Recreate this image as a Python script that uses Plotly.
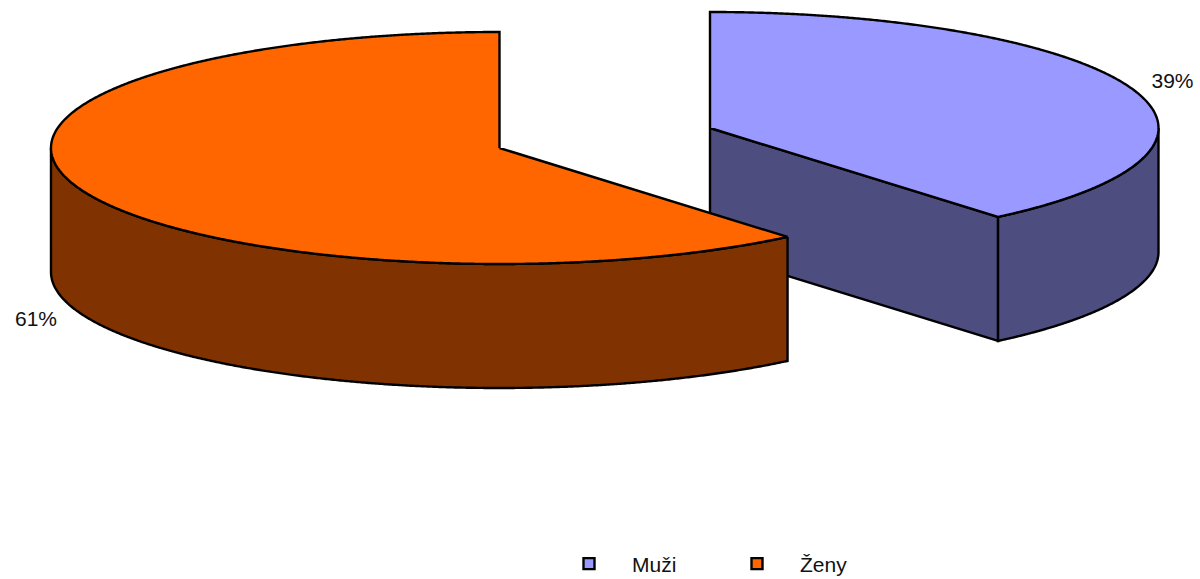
import numpy as np
import plotly.graph_objects as go

# --- data ---
categories = ["Muži", "Ženy"]
shares = [38.9, 61.1]

# --- style / geometry ---
top_colors = ["#9999FF", "#FF6600"]
side_colors = ["#4D4D80", "#803300"]
centers = [(710.0, 128.0), (499.5, 148.0)]
RX, RY, DEPTH = 448.5, 116.0, 124.0
label_offsets = [(41, -6), (-42, 9)]
FONT = "Liberation Sans, Arial, sans-serif"
LINE_W = 2.4


def rim(center, deg):
    a = np.radians(deg)
    return center[0] + RX * np.sin(a), center[1] - RY * np.cos(a)


def arc(center, start, end):
    n = max(int(abs(end - start) * 4), 2)
    return rim(center, np.linspace(start, end, n))


def wall_trace(xs, ys, color):
    xs = list(xs)
    ys = list(ys)
    return go.Scatter(
        x=xs + [v for v in reversed(xs)] + [xs[0]],
        y=ys + [v + DEPTH for v in reversed(ys)] + [ys[0]],
        mode="lines", fill="toself", fillcolor=color,
        line=dict(color="black", width=LINE_W, simplify=False),
        showlegend=False, hoverinfo="skip",
    )


fig = go.Figure()
cum = 0.0
for i, (name, share) in enumerate(zip(categories, shares)):
    start = cum / sum(shares) * 360
    cum += share
    end = cum / sum(shares) * 360
    c = centers[i]
    ex, ey = rim(c, end)

    if i == 0:
        # cut face towards the viewer, and the outer wall
        fig.add_trace(wall_trace([c[0], ex], [c[1], ey], side_colors[i]))
        ax, ay = arc(c, 90, end)
        fig.add_trace(wall_trace(ax, ay, side_colors[i]))
    else:
        # outer wall from the front cut round to the left-most point
        ax, ay = arc(c, start, 270)
        fig.add_trace(wall_trace(ax, ay, side_colors[i]))

    ax, ay = arc(c, start, end)
    fig.add_trace(go.Scatter(
        x=[c[0]] + list(ax) + [c[0]], y=[c[1]] + list(ay) + [c[1]],
        mode="lines", fill="toself", fillcolor=top_colors[i],
        line=dict(color="black", width=LINE_W, simplify=False),
        showlegend=False, name=name, hoverinfo="name",
    ))

# percentage labels
cum = 0.0
for i, share in enumerate(shares):
    mid = (cum + share / 2) / sum(shares) * 360
    cum += share
    mx, my = rim(centers[i], mid)
    drop = DEPTH if i == 1 else 0
    fig.add_trace(go.Scatter(
        x=[mx + label_offsets[i][0]], y=[my + drop + label_offsets[i][1]],
        mode="text", text=[f"{round(share)}%"],
        textposition="middle center",
        textfont=dict(family=FONT, size=21, color="#111111"),
        showlegend=False, hoverinfo="skip",
    ))

# legend entries
for i, name in enumerate(categories):
    fig.add_trace(go.Scatter(
        x=[None], y=[None], mode="markers", name=name,
        marker=dict(symbol="square", size=11, color=top_colors[i],
                    line=dict(color="black", width=2.4)),
    ))

fig.update_layout(
    width=1200, height=579,
    margin=dict(l=0, r=0, t=0, b=0, autoexpand=False),
    paper_bgcolor="white", plot_bgcolor="white",
    xaxis=dict(range=[0, 1200], visible=False, fixedrange=True),
    yaxis=dict(range=[579, 0], visible=False, fixedrange=True),
    legend=dict(
        orientation="h", x=0.455, y=0.0259, xanchor="left", yanchor="middle",
        itemwidth=76, entrywidth=77, entrywidthmode="pixels",
        font=dict(family=FONT, size=21, color="#111111"),
        bgcolor="rgba(0,0,0,0)", traceorder="normal",
    ),
)

fig.write_html(
    "out.html",
    config=dict(displayModeBar=False),
    post_script="document.body.style.margin='0';document.body.style.overflow='hidden';",
)
